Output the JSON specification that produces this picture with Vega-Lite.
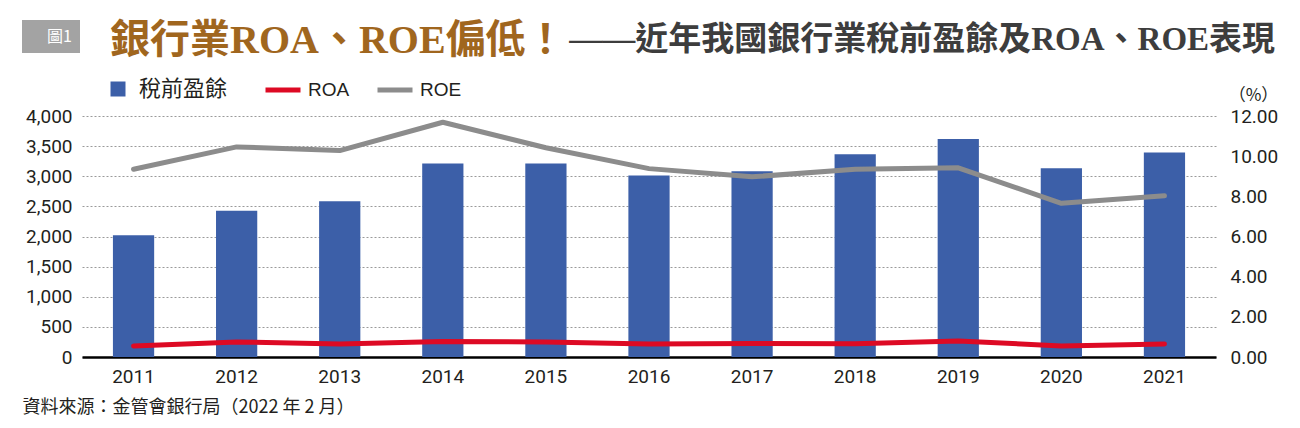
{
  "$schema": "https://vega.github.io/schema/vega-lite/v6.json",
  "width": 1134,
  "height": 241,
  "autosize": {"type": "none"},
  "padding": {"left": 82, "top": 116, "right": 84, "bottom": 71},
  "background": "white",
  "title": {
    "text": "銀行業ROA、ROE偏低！",
    "subtitle": "\u200b\u3000\u3000\u3000\u3000\u3000\u3000\u3000\u3000\u3000\u3000\u3000\u3000\u3000\u2002\u2005\u2006——近年我國銀行業稅前盈餘及ROA、ROE表現",
    "anchor": "start",
    "frame": "group",
    "dx": 28,
    "font": "Liberation Serif, Noto Sans CJK TC",
    "fontSize": 40,
    "fontWeight": "bold",
    "color": "#a0661e",
    "subtitleFont": "Liberation Serif, Noto Sans CJK TC",
    "subtitleFontSize": 33,
    "subtitleFontWeight": "bold",
    "subtitleColor": "#3d3d3d",
    "subtitlePadding": -37,
    "offset": -41
  },
  "data": {
    "values": [
      {"year": "2011", "profit": 2020, "ROA": 0.55, "ROE": 9.35},
      {"year": "2012", "profit": 2427, "ROA": 0.75, "ROE": 10.46},
      {"year": "2013", "profit": 2583, "ROA": 0.65, "ROE": 10.28},
      {"year": "2014", "profit": 3212, "ROA": 0.77, "ROE": 11.69},
      {"year": "2015", "profit": 3212, "ROA": 0.75, "ROE": 10.42},
      {"year": "2016", "profit": 3013, "ROA": 0.65, "ROE": 9.38},
      {"year": "2017", "profit": 3084, "ROA": 0.67, "ROE": 8.97},
      {"year": "2018", "profit": 3366, "ROA": 0.66, "ROE": 9.35},
      {"year": "2019", "profit": 3619, "ROA": 0.8, "ROE": 9.42},
      {"year": "2020", "profit": 3134, "ROA": 0.55, "ROE": 7.65},
      {"year": "2021", "profit": 3394, "ROA": 0.65, "ROE": 8.03}
    ]
  },
  "encoding": {
    "x": {
      "field": "year",
      "type": "ordinal",
      "scale": {"type": "band", "paddingInner": 0.6, "paddingOuter": 0.3},
      "axis": {
        "title": "資料來源：金管會銀行局（2022 年 2 月）",
        "titleFont": "Noto Sans CJK TC",
        "titleFontSize": 18,
        "titleFontWeight": "normal",
        "titleColor": "#231f20",
        "titleAnchor": null,
        "titleAlign": "left",
        "titleBaseline": "alphabetic",
        "titleX": -60,
        "titleY": 55,
        "labelAngle": 0,
        "labelFont": "Roboto",
        "labelFontSize": 19,
        "labelColor": "#231f20",
        "labelPadding": 10,
        "ticks": false,
        "domainColor": "#000000",
        "domainWidth": 2.5,
        "grid": false
      }
    }
  },
  "layer": [
    {
      "mark": {"type": "bar"},
      "encoding": {
        "y": {
          "field": "profit",
          "type": "quantitative",
          "scale": {"domain": [0, 4000], "nice": false},
          "axis": {
            "title": null,
            "orient": "left",
            "values": [0, 500, 1000, 1500, 2000, 2500, 3000, 3500, 4000],
            "format": ",.0f",
            "labelFont": "Roboto",
            "labelFontSize": 19,
            "labelColor": "#231f20",
            "labelPadding": 10,
            "ticks": false,
            "domain": false,
            "grid": true,
            "gridColor": "#9a9a9a",
            "gridDash": [2, 2],
            "gridWidth": 1
          }
        },
        "fill": {
          "datum": "稅前盈餘",
          "type": "nominal",
          "scale": {"domain": ["稅前盈餘"], "range": ["#3c5fa8"]},
          "legend": {
            "orient": "none",
            "legendX": 25,
            "legendY": -38,
            "title": null,
            "padding": 0,
            "symbolType": "square",
            "symbolSize": 225,
            "symbolStrokeWidth": 0,
            "labelOffset": 10,
            "labelFont": "Noto Sans CJK TC",
            "labelFontSize": 22,
            "labelColor": "#231f20"
          }
        },
        "opacity": {
          "datum": "圖1",
          "type": "ordinal",
          "scale": {"domain": ["圖1"], "range": [1]},
          "legend": {
            "orient": "none",
            "legendX": -60,
            "legendY": -96,
            "title": null,
            "padding": 8,
            "fillColor": "#a3a3a3",
            "symbolType": "M0,0Z",
            "symbolSize": 289,
            "symbolStrokeWidth": 0,
            "symbolFillColor": "#a3a3a3",
            "labelOffset": 0,
            "labelFont": "Noto Sans CJK TC",
            "labelFontSize": 16,
            "labelColor": "#ffffff"
          }
        }
      }
    },
    {
      "transform": [{"fold": ["ROE", "ROA"], "as": ["metric", "pct"]}],
      "mark": {"type": "line", "strokeWidth": 5, "strokeCap": "round", "strokeJoin": "round"},
      "encoding": {
        "y": {
          "field": "pct",
          "type": "quantitative",
          "scale": {"domain": [0, 12], "nice": false},
          "axis": {
            "orient": "right",
            "title": "（%）",
            "titleFont": "Noto Sans CJK TC",
            "titleFontSize": 17,
            "titleFontWeight": "normal",
            "titleColor": "#231f20",
            "titleAngle": 0,
            "titleAnchor": null,
            "titleAlign": "center",
            "titleBaseline": "alphabetic",
            "titleX": 37,
            "titleY": -16,
            "values": [0, 2, 4, 6, 8, 10, 12],
            "format": ".2f",
            "labelFont": "Roboto",
            "labelFontSize": 19,
            "labelColor": "#231f20",
            "labelPadding": 14,
            "ticks": false,
            "domain": false,
            "grid": false
          }
        },
        "stroke": {
          "field": "metric",
          "type": "nominal",
          "scale": {"domain": ["ROA", "ROE"], "range": ["#dd0a24", "#8c8c8c"]},
          "legend": {
            "orient": "none",
            "legendX": 181,
            "legendY": -46,
            "direction": "horizontal",
            "title": null,
            "padding": 0,
            "symbolType": "stroke",
            "symbolSize": 1225,
            "symbolStrokeWidth": 5,
            "labelOffset": 5,
            "columnPadding": 17,
            "labelFont": "Liberation Sans",
            "labelFontSize": 19,
            "labelColor": "#231f20"
          }
        },
        "order": {"field": "metric", "sort": "descending"}
      }
    }
  ],
  "resolve": {"scale": {"y": "independent"}},
  "config": {
    "view": {"stroke": null}
  }
}
